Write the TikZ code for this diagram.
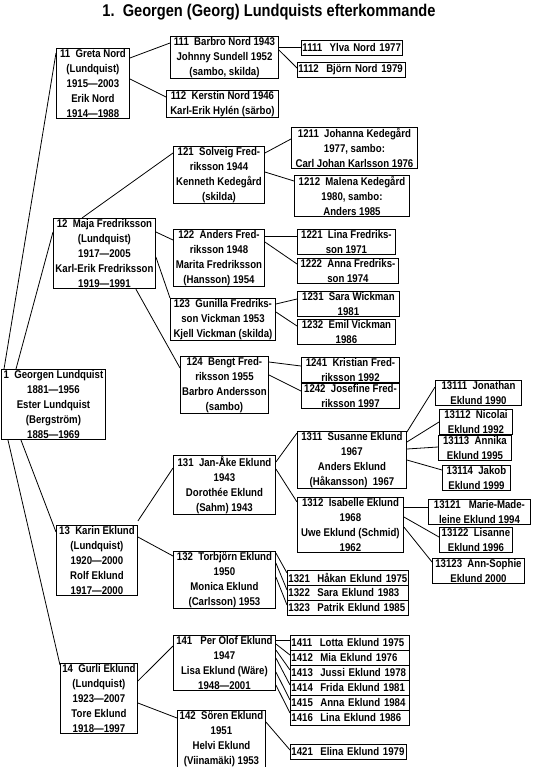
\documentclass[tikz,border=0pt]{standalone}
\usepackage{fontspec}
\setmainfont[FakeStretch=0.86]{Liberation Sans}
\usepackage{tikz}

\begin{document}
\begin{tikzpicture}[x=1pt, y=-1pt]
\tikzstyle{person} = [rectangle, draw, line width=0.9pt, anchor=north west, align=center, inner xsep=1pt, inner ysep=1pt, font=\fontsize{11.2}{15}\selectfont\bfseries]
\tikzstyle{row} = [person, align=left, minimum height=15pt]
\tikzstyle{link} = [line width=0.8pt]
\useasboundingbox (0,0) rectangle (533,767);
\node[font=\fontsize{17}{20}\selectfont\bfseries] (title) at (269,12) {1.~~Georgen (Georg) Lundquists efterkommande};

\node[person, minimum width=104pt] (n1) at (1,369) {1~~Georgen Lundquist\\1881—1956\\Ester Lundquist\\(Bergström)\\1885—1969};
\node[person, minimum width=73pt] (n11) at (56,48) {11~~Greta Nord\\(Lundquist)\\1915—2003\\Erik Nord\\1914—1988};
\node[person, minimum width=102pt] (n12) at (53,218) {12~~Maja Fredriksson\\(Lundquist)\\1917—2005\\Karl-Erik Fredriksson\\1919—1991};
\node[person, minimum width=81pt] (n13) at (56,525) {13~~Karin Eklund\\(Lundquist)\\1920—2000\\Rolf Eklund\\1917—2000};
\node[person, minimum width=77pt] (n14) at (60,663) {14~~Gurli Eklund\\(Lundquist)\\1923—2007\\Tore Eklund\\1918—1997};

\node[person, minimum width=108pt] (n111) at (170,36) {111~~Barbro Nord 1943\\Johnny Sundell 1952\\(sambo, skilda)};
\node[person, minimum width=112pt] (n112) at (166,90) {112~~Kerstin Nord 1946\\Karl-Erik Hylén (särbo)};
\node[person, minimum width=91pt] (n121) at (173,146) {121~~Solveig Fred-\\riksson 1944\\Kenneth Kedegård\\(skilda)};
\node[person, minimum width=91pt] (n122) at (173,229) {122~~Anders Fred-\\riksson 1948\\Marita Fredriksson\\(Hansson) 1954};
\node[person, minimum width=105pt] (n123) at (170,298) {123~~Gunilla Fredriks-\\son Vickman 1953\\Kjell Vickman (skilda)};
\node[person, minimum width=88pt] (n124) at (180,356) {124~~Bengt Fred-\\riksson 1955\\Barbro Andersson\\(sambo)};
\node[person, minimum width=102pt] (n131) at (173,455) {131~~Jan-Åke Eklund\\1943\\Dorothée Eklund\\(Sahm) 1943};
\node[person, minimum width=102pt] (n132) at (173,551) {132~~Torbjörn Eklund\\1950\\Monica Eklund\\(Carlsson) 1953};
\node[person, minimum width=102pt] (n141) at (173,635) {141~~~Per Olof Eklund\\1947\\Lisa Eklund (Wäre)\\1948—2001};
\node[person, minimum width=88pt] (n142) at (177,710) {142~~Sören Eklund\\1951\\Helvi Eklund\\(Viinamäki) 1953};

\node[row, text width=99pt] (n1111) at (301,40) {1111~~Ylva Nord 1977};
\node[row, text width=106pt] (n1112) at (297,62) {1112~~Björn Nord 1979};
\node[person, minimum width=126pt] (n1211) at (291,127) {1211~~Johanna Kedegård\\1977, sambo:\\Carl Johan Karlsson 1976};
\node[person, minimum width=115pt] (n1212) at (294,175) {1212~~Malena Kedegård\\1980, sambo:\\Anders 1985};
\node[person, minimum width=98pt] (n1221) at (297,229) {1221~~Lina Fredriks-\\son 1971};
\node[person, minimum width=101pt] (n1222) at (297,258) {1222~~Anna Fredriks-\\son 1974};
\node[person, minimum width=102pt] (n1231) at (297,291) {1231~~Sara Wickman\\1981};
\node[person, minimum width=98pt] (n1232) at (297,319) {1232~~Emil Vickman\\1986};
\node[person, minimum width=98pt] (n1241) at (301,357) {1241~~Kristian Fred-\\riksson 1992};
\node[person, minimum width=98pt] (n1242) at (301,383) {1242~~Josefine Fred-\\riksson 1997};
\node[person, minimum width=109pt] (n1311) at (297,431) {1311~~Susanne Eklund\\1967\\Anders Eklund\\(Håkansson)~~1967};
\node[person, minimum width=106pt] (n1312) at (297,497) {1312~~Isabelle Eklund\\1968\\Uwe Eklund (Schmid)\\1962};
\node[row, text width=119pt] (n1321) at (287,570) {1321~~Håkan Eklund 1975};
\node[row, text width=119pt] (n1322) at (287,585) {1322~~Sara Eklund 1983};
\node[row, text width=119pt] (n1323) at (287,600) {1323~~Patrik Eklund 1985};
\node[row, text width=117pt] (n1411) at (290,635) {1411~~Lotta Eklund 1975};
\node[row, text width=117pt] (n1412) at (290,650) {1412~~Mia Eklund 1976};
\node[row, text width=117pt] (n1413) at (290,665) {1413~~Jussi Eklund 1978};
\node[row, text width=117pt] (n1414) at (290,680) {1414~~Frida Eklund 1981};
\node[row, text width=117pt] (n1415) at (290,695) {1415~~Anna Eklund 1984};
\node[row, text width=117pt] (n1416) at (290,710) {1416~~Lina Eklund 1986};
\node[row, text width=114pt] (n1421) at (290,744) {1421~~Elina Eklund 1979};

\node[person, minimum width=86pt] (n13111) at (435,380) {13111~~Jonathan\\Eklund 1990};
\node[person, minimum width=73pt] (n13112) at (439,409) {13112~~Nicolai\\Eklund 1992};
\node[person, minimum width=73pt] (n13113) at (438,435) {13113~~Annika\\Eklund 1995};
\node[person, minimum width=68pt] (n13114) at (442,465) {13114~~Jakob\\Eklund 1999};
\node[person, minimum width=102pt] (n13121) at (428,499) {13121~~~Marie-Made-\\leine Eklund 1994};
\node[person, minimum width=73pt] (n13122) at (439,527) {13122~~Lisanne\\Eklund 1996};
\node[person, minimum width=92pt] (n13123) at (432,558) {13123~~Ann-Sophie\\Eklund 2000};

\draw[link] ([xshift=3pt]n1.north west) -- ([yshift=-5pt]n11.north west);
\draw[link] ([xshift=15pt]n1.north west) -- ([yshift=-14pt]n12.north west);
\draw[link] ([xshift=20pt]n1.south west) -- ([yshift=-7pt]n13.north west);
\draw[link] ([xshift=7pt]n1.south west) -- ([yshift=-2pt]n14.north west);
\draw[link] ([yshift=-10pt]n11.north east) -- ([yshift=-7pt]n111.north west);
\draw[link] ([yshift=-31pt]n11.north east) -- ([yshift=-7pt]n112.north west);
\draw[link] ([yshift=-11pt]n111.north east) -- ([yshift=-7pt]n1111.north west);
\draw[link] ([yshift=-14pt]n111.north east) -- ([yshift=-6pt]n1112.north west);
\draw[link] ([xshift=29pt]n12.north west) -- ([yshift=-7pt]n121.north west);
\draw[link] ([yshift=-14pt]n12.north east) -- ([yshift=-11pt]n122.north west);
\draw[link] ([yshift=-39pt]n12.north east) -- (n123.north west);
\draw[link] ([xshift=-20pt]n12.south east) -- ([yshift=-12pt]n124.north west);
\draw[link] ([yshift=-7pt]n121.north east) -- ([yshift=-12pt]n1211.north west);
\draw[link] ([yshift=-26pt]n121.north east) -- ([yshift=-6pt]n1212.north west);
\draw[link] ([yshift=-7pt]n122.north east) -- ([yshift=-7pt]n1221.north west);
\draw[link] ([yshift=-13pt]n122.north east) -- ([yshift=-6pt]n1222.north west);
\draw[link] ([yshift=-6pt]n123.north east) -- ([yshift=-8pt]n1231.north west);
\draw[link] ([yshift=-14pt]n123.north east) -- ([yshift=-7pt]n1232.north west);
\draw[link] ([yshift=-6pt]n124.north east) -- ([yshift=-9pt]n1241.north west);
\draw[link] ([yshift=-19pt]n124.north east) -- ([yshift=-8pt]n1242.north west);
\draw[link] ([yshift=4pt]n13.north east) -- ([yshift=-13pt]n131.north west);
\draw[link] ([yshift=-12pt]n13.north east) -- ([yshift=-5pt]n132.north west);
\draw[link] ([yshift=-7pt]n131.north east) -- ([yshift=-2pt]n1311.north west);
\draw[link] ([yshift=-14pt]n131.north east) -- ([yshift=-5pt]n1312.north west);
\draw[link] ([yshift=-1pt]n1311.north east) -- ([yshift=-7pt]n13111.north west);
\draw[link] ([yshift=-11pt]n1311.north east) -- ([yshift=-13pt]n13112.north west);
\draw[link] ([yshift=-18pt]n1311.north east) -- ([yshift=-12pt]n13113.north west);
\draw[link] ([yshift=-29pt]n1311.north east) -- ([yshift=-5pt]n13114.north west);
\draw[link] ([yshift=-10pt]n1312.north east) -- ([yshift=-8pt]n13121.north west);
\draw[link] ([yshift=-20pt]n1312.north east) -- ([yshift=-10pt]n13122.north west);
\draw[link] ([yshift=-30pt]n1312.north east) -- ([yshift=-4pt]n13123.north west);
\draw[link] ([yshift=-2pt]n132.north east) -- ([yshift=-3pt]n1321.north west);
\draw[link] ([yshift=-12pt]n132.north east) -- ([yshift=-5pt]n1322.north west);
\draw[link] ([yshift=-26pt]n132.north east) -- ([yshift=-5pt]n1323.north west);
\draw[link] ([yshift=-18pt]n14.north east) -- ([yshift=-11pt]n141.north west);
\draw[link] ([yshift=-40pt]n14.north east) -- ([yshift=-8pt]n142.north west);
\draw[link] ([yshift=-5pt]n141.north east) -- ([yshift=-5pt]n1411.north west);
\draw[link] ([yshift=-9pt]n141.north east) -- ([yshift=-5pt]n1412.north west);
\draw[link] ([yshift=-15pt]n141.north east) -- ([yshift=-5pt]n1413.north west);
\draw[link] ([yshift=-23pt]n141.north east) -- ([yshift=-5pt]n1414.north west);
\draw[link] ([yshift=-37pt]n141.north east) -- ([yshift=-5pt]n1415.north west);
\draw[link] ([yshift=-50pt]n141.north east) -- ([yshift=-3pt]n1416.north west);
\draw[link] ([yshift=-12pt]n142.north east) -- ([yshift=-6pt]n1421.north west);
\end{tikzpicture}
\end{document}
